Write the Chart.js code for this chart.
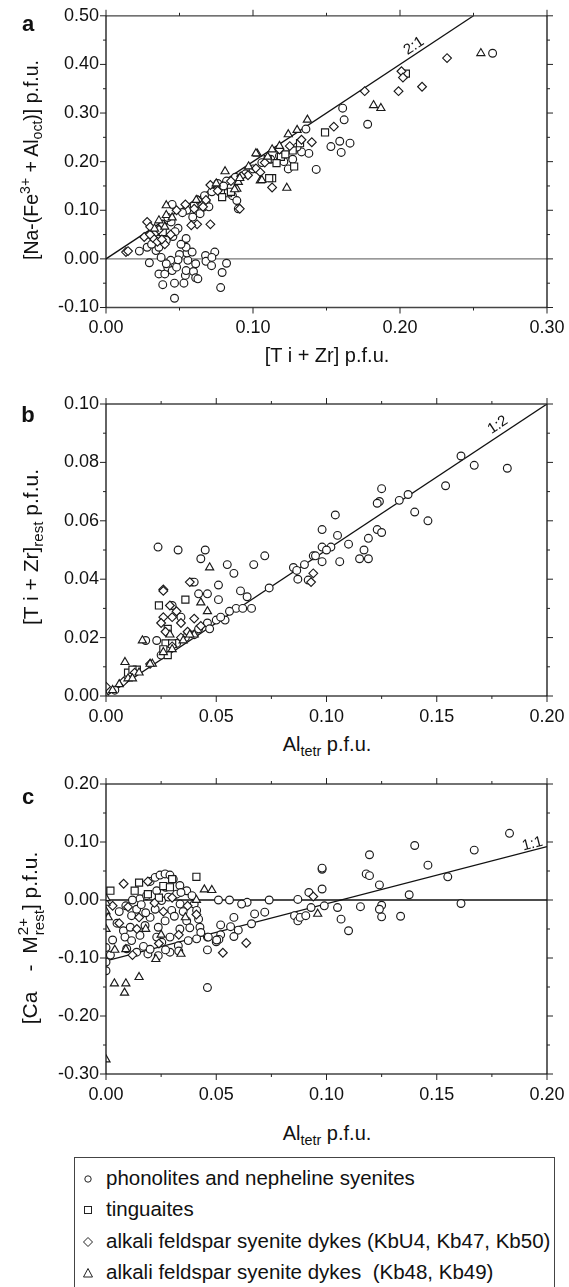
<!DOCTYPE html>
<html><head><meta charset="utf-8">
<script src="https://cdn.jsdelivr.net/npm/chart.js@4"></script>
<style>
body{margin:0;background:#fff;width:569px;height:1287px;position:relative;overflow:hidden;font-family:"Liberation Sans",Arial,sans-serif;color:#111}
canvas{position:absolute;left:0}
.t{position:absolute;white-space:nowrap;font-size:20px;transform:translate(-50%,-50%)}
.ty{transform:translate(-50%,-50%) rotate(-90deg)}
.lab{position:absolute;font-weight:bold;font-size:22px;transform:translate(-50%,-50%)}
sub,sup{font-size:72%;line-height:0}
.ss{display:inline-flex;flex-direction:column;vertical-align:middle;font-size:72%;line-height:1.05;margin-left:1px}
.gap{display:inline-block}
#legend{position:absolute;left:74px;top:1157px;width:481px;height:140px;border:1px solid #444;box-sizing:border-box}
.li{position:absolute;left:0;height:20px;font-size:20.5px;white-space:nowrap}
.li svg{position:absolute;left:6px;top:4px}
.li span{position:absolute;left:31px;top:-2px}
</style></head>
<body>
<canvas id="ca" width="569" height="345" style="top:0px"></canvas>
<canvas id="cb" width="569" height="350" style="top:380px"></canvas>
<canvas id="cc" width="569" height="340" style="top:770px"></canvas>

<div class="lab" style="left:28px;top:24px">a</div>
<div class="lab" style="left:28px;top:415px">b</div>
<div class="lab" style="left:28px;top:797px">c</div>

<div class="t ty" style="left:31px;top:160px;font-size:19.5px">[Na-(Fe<sup>3+</sup> + Al<sub>oct</sub>)] p.f.u.</div>
<div class="t" style="left:327px;top:355px">[T i + Zr] p.f.u.</div>
<div class="t ty" style="left:31px;top:547px;font-size:21px">[T i + Zr]<sub>rest</sub> p.f.u.</div>
<div class="t" style="left:327px;top:744px">Al<sub>tetr</sub> p.f.u.</div>
<div class="t ty" style="left:31px;top:938px;font-size:21px">[Ca<span class="gap" style="width:20px"></span>- <span class="gap" style="width:5px"></span>M<span class="ss"><span>2+</span><span>rest</span></span>] p.f.u.</div>
<div class="t" style="left:327px;top:1133px">Al<sub>tetr</sub> p.f.u.</div>

<div id="legend">
 <div class="li" style="top:10px"><svg width="14" height="14"><circle cx="7" cy="7" r="3.2" fill="#fff" stroke="#222" stroke-width="1"/></svg><span>phonolites and nepheline syenites</span></div>
 <div class="li" style="top:41px"><svg width="14" height="14"><rect x="3.5" y="3.5" width="7" height="7" fill="#fff" stroke="#222" stroke-width="1"/></svg><span>tinguaites</span></div>
 <div class="li" style="top:73px"><svg width="14" height="14"><polygon points="7,2.5 11.5,7 7,11.5 2.5,7" fill="#fff" stroke="#222" stroke-width="1"/></svg><span>alkali feldspar syenite dykes (KbU4, Kb47, Kb50)</span></div>
 <div class="li" style="top:104px"><svg width="14" height="14"><polygon points="7,2.5 11.5,11 2.5,11" fill="#fff" stroke="#222" stroke-width="1"/></svg><span>alkali feldspar syenite dykes &nbsp;(Kb48, Kb49)</span></div>
</div>

<script>
// ---------------- DATA ----------------
const seriesNames = ["phonolites and nepheline syenites","tinguaites","alkali feldspar syenite dykes (KbU4, Kb47, Kb50)","alkali feldspar syenite dykes  (Kb48, Kb49)"];

// Panel a : x = [Ti + Zr], y = [Na-(Fe3+ + Aloct)]
const aCirc = [[0.263,0.423],[0.161,0.310],[0.162,0.286],[0.178,0.277],[0.136,0.267],[0.159,0.242],[0.166,0.238],[0.153,0.231],[0.160,0.219],[0.138,0.217],[0.143,0.184],[0.124,0.185],[0.203,0.378],[0.127,0.205],[0.121,0.200],[0.118,0.212],[0.133,0.220],[0.130,0.230],[0.112,0.205],[0.106,0.198],[0.100,0.185],[0.095,0.175],[0.088,0.168],[0.082,0.160],[0.076,0.155],[0.086,0.130],[0.089,0.120],[0.090,0.103],[0.066,0.106],[0.062,0.099],[0.068,0.118],[0.070,0.107],[0.064,0.093],[0.059,0.086],[0.060,0.110],[0.055,0.100],[0.052,0.095],[0.067,0.130],[0.072,0.138],[0.080,0.150],
 [0.0227,0.016],[0.0295,-0.008],[0.036,-0.031],[0.040,-0.031],[0.0386,-0.053],[0.0466,-0.081],[0.0466,-0.050],[0.042,-0.017],[0.045,-0.024],[0.048,-0.017],[0.053,-0.050],[0.054,-0.034],[0.0545,-0.024],[0.0595,-0.026],[0.061,-0.039],[0.0557,-0.003],[0.055,0.012],[0.0545,0.024],[0.0586,0.014],[0.061,-0.010],[0.0625,-0.041],[0.050,0.009],[0.049,-0.002],[0.044,-0.003],[0.041,-0.010],[0.0375,0.003],[0.034,0.017],[0.028,0.024],[0.036,0.024],[0.041,0.038],[0.0455,0.046],[0.049,0.063],[0.0443,0.076],[0.045,0.112],[0.042,0.085],[0.0545,0.042],[0.0677,0.007],[0.068,-0.005],[0.0718,-0.014],[0.074,0.014],[0.072,0.003],[0.079,-0.028],[0.082,-0.009],[0.078,-0.059],[0.036,0.041],[0.031,0.030],[0.038,0.054],[0.047,0.056],[0.051,0.030]];
const aSq = [[0.149,0.260],[0.132,0.238],[0.128,0.190],[0.113,0.166],[0.127,0.223],[0.119,0.210],[0.083,0.135],[0.079,0.127],[0.110,0.205],[0.085,0.138],[0.111,0.166],[0.0386,0.055],[0.204,0.381],[0.116,0.197],[0.122,0.215]];
const aDiam = [[0.232,0.413],[0.176,0.345],[0.199,0.345],[0.215,0.354],[0.201,0.386],[0.202,0.373],[0.155,0.272],[0.140,0.240],[0.113,0.147],[0.071,0.071],[0.062,0.071],[0.071,0.152],[0.0136,0.014],[0.015,0.016],[0.028,0.076],[0.026,0.045],[0.030,0.066],[0.0386,0.071],[0.034,0.055],[0.036,0.060],[0.032,0.043],[0.058,0.069],[0.0625,0.121],[0.068,0.121],[0.091,0.103],[0.108,0.198],[0.102,0.186],[0.0966,0.172],[0.060,0.103],[0.066,0.107],[0.040,0.030],[0.035,0.035],[0.044,0.050],[0.048,0.100],[0.054,0.112],[0.076,0.140],[0.085,0.160],[0.092,0.170],[0.118,0.225],[0.125,0.232],[0.133,0.245],[0.105,0.178],[0.030,0.050],[0.038,0.040]];
const aTri = [[0.255,0.423],[0.182,0.316],[0.187,0.310],[0.137,0.286],[0.130,0.265],[0.124,0.256],[0.103,0.216],[0.123,0.146],[0.081,0.180],[0.105,0.161],[0.089,0.144],[0.090,0.158],[0.041,0.110],[0.036,0.079],[0.040,0.066],[0.041,0.090],[0.0614,0.121],[0.0875,0.143],[0.091,0.166],[0.102,0.217],[0.106,0.162],[0.075,0.155],[0.113,0.225],[0.118,0.232],[0.110,0.210],[0.097,0.190],[0.033,0.062],[0.045,0.085]];
const aLine = [[0,0],[0.25,0.5]];

// Panel b : x = Altetr, y = [Ti + Zr]rest
const bCirc = [[0.161,0.0822],[0.167,0.079],[0.182,0.078],[0.154,0.072],[0.125,0.071],[0.124,0.0666],[0.123,0.066],[0.133,0.067],[0.137,0.069],[0.140,0.063],[0.146,0.060],[0.104,0.062],[0.098,0.057],[0.105,0.055],[0.110,0.052],[0.123,0.057],[0.125,0.056],[0.119,0.054],[0.117,0.050],[0.115,0.047],[0.119,0.047],[0.106,0.046],[0.098,0.051],[0.098,0.046],[0.102,0.051],[0.094,0.048],[0.0917,0.0397],[0.087,0.040],[0.085,0.044],[0.090,0.045],[0.0865,0.043],[0.074,0.037],[0.067,0.045],[0.072,0.048],[0.066,0.030],[0.061,0.036],[0.064,0.034],[0.059,0.030],[0.055,0.045],[0.058,0.042],[0.051,0.038],[0.051,0.033],[0.045,0.050],[0.043,0.047],[0.0327,0.050],[0.0236,0.051],[0.042,0.035],[0.046,0.035],[0.046,0.025],[0.039,0.039],[0.040,0.039],[0.023,0.019],[0.018,0.019],[0.054,0.026],[0.056,0.029],[0.050,0.026],[0.047,0.023],[0.040,0.021],[0.030,0.031],[0.034,0.027],[0.004,0.002],[0.025,0.014],[0.028,0.016],[0.032,0.018],[0.036,0.020],[0.042,0.023],[0.052,0.027],[0.062,0.030],[0.095,0.048],[0.100,0.050]];
const bSq = [[0.024,0.031],[0.036,0.033],[0.028,0.023],[0.027,0.018],[0.030,0.018],[0.028,0.014],[0.014,0.009],[0.010,0.008],[0.012,0.009],[0.026,0.016]];
const bDiam = [[0.026,0.0365],[0.026,0.036],[0.038,0.039],[0.029,0.031],[0.032,0.029],[0.026,0.027],[0.025,0.025],[0.030,0.027],[0.034,0.025],[0.040,0.0265],[0.043,0.024],[0.034,0.020],[0.000,0.0032],[0.094,0.042],[0.093,0.039],[0.008,0.005],[0.013,0.008],[0.020,0.011],[0.030,0.017],[0.037,0.022],[0.027,0.022]];
const bTri = [[0.047,0.044],[0.043,0.032],[0.046,0.029],[0.0165,0.019],[0.0086,0.0116],[0.000,0.000],[0.006,0.004],[0.021,0.011],[0.026,0.015],[0.035,0.019],[0.010,0.006],[0.012,0.006],[0.015,0.008],[0.020,0.011],[0.030,0.016],[0.040,0.021],[0.003,0.002],[0.038,0.021],[0.029,0.021]];
const bLine = [[0,0],[0.2,0.1]];

// Panel c : x = Altetr, y = [Ca - M2+rest]
const cCirc = [[0.183,0.115],[0.167,0.086],[0.161,-0.006],[0.155,0.040],[0.146,0.060],[0.140,0.094],[0.1375,0.009],[0.1336,-0.028],[0.125,-0.009],[0.125,-0.029],[0.124,-0.016],[0.124,0.026],[0.1195,0.078],[0.118,0.045],[0.1195,0.042],[0.1154,-0.0115],[0.110,-0.053],[0.1066,-0.033],[0.105,-0.013],[0.098,0.053],[0.098,0.055],[0.098,0.019],[0.099,-0.010],[0.092,0.013],[0.087,0.001],[0.0855,-0.027],[0.087,-0.036],[0.088,-0.030],[0.0906,-0.027],[0.093,-0.013],[0.074,0.000],[0.072,-0.021],[0.0674,-0.024],[0.066,-0.041],[0.064,-0.004],[0.0615,-0.007],[0.058,-0.030],[0.060,-0.052],[0.058,-0.063],[0.0565,-0.046],[0.052,-0.043],[0.051,0.000],[0.056,0.000],[0.052,-0.060],[0.0512,-0.068],[0.050,-0.072],[0.046,-0.151],[0.046,-0.086],[0.046,-0.064],[0.000,-0.122],[0.000,-0.107],[0.000,-0.082],[0.003,-0.069],
 [0.020,0.032],[0.0223,0.039],[0.0245,0.043],[0.0268,0.045],[0.029,0.043],[0.0305,0.036],[0.0335,0.025],[0.0366,0.016],[0.039,0.0075],[0.040,-0.007],[0.0411,-0.018],[0.042,-0.033],[0.0426,-0.047],[0.043,-0.056],[0.0502,-0.069],[0.0464,-0.064],[0.0411,-0.067],[0.0373,-0.070],[0.0328,-0.079],[0.029,-0.090],[0.0237,-0.096],[0.019,-0.093],[0.0139,-0.090],[0.0094,-0.084],[0.0079,-0.053],[0.011,-0.047],[0.0086,-0.064],[0.0116,-0.070],[0.0154,-0.061],[0.0177,-0.044],[0.020,-0.030],[0.0223,-0.016],[0.0252,-0.001],[0.0283,0.005],[0.032,0.010],[0.034,0.013],[0.0336,-0.007],[0.0298,-0.018],[0.0268,-0.036],[0.0237,-0.047],[0.023,-0.064],[0.0253,-0.073],[0.029,-0.064],[0.0335,-0.050],[0.0366,-0.036],[0.0154,0.002],[0.0184,0.0075],[0.0139,-0.016],[0.0116,-0.027],[0.023,0.016],[0.027,0.022],[0.012,0.000],[0.009,-0.010],[0.006,-0.020],[0.016,-0.008],[0.018,-0.022],[0.031,-0.028],[0.035,-0.020],[0.038,-0.048],[0.033,-0.088],[0.027,-0.086],[0.005,-0.040],[0.002,-0.095],[0.017,-0.080],[0.020,-0.085]];
const cSq = [[0.002,0.016],[0.015,0.030],[0.013,0.016],[0.041,0.040],[0.026,0.024],[0.029,0.022],[0.030,0.036],[0.024,0.004],[0.019,0.010]];
const cDiam = [[0.008,0.028],[0.019,0.032],[0.0636,-0.074],[0.053,-0.091],[0.094,0.006],[0.010,-0.012],[0.015,-0.030],[0.022,-0.005],[0.026,-0.020],[0.030,0.004],[0.014,-0.050],[0.006,-0.040],[0.033,-0.060],[0.024,-0.075],[0.037,-0.010],[0.012,-0.095],[0.041,-0.025],[0.003,-0.010]];
const cTri = [[0.0038,-0.144],[0.009,-0.144],[0.0084,-0.160],[0.015,-0.133],[0.000,-0.275],[0.000,-0.005],[0.000,-0.020],[0.000,-0.050],[0.000,0.003],[0.001,-0.030],[0.096,-0.024],[0.0446,0.018],[0.048,0.017],[0.0226,-0.102],[0.034,-0.093],[0.004,-0.086],[0.009,-0.085],[0.018,-0.050],[0.041,0.000],[0.036,-0.030],[0.025,-0.060]];
const cLine = [[0,-0.105],[0.2,0.092]];

// axis ranges / ticks
const aXTicks = {min:0, max:0.30, minor:0.05, major:0.10};
const aYTicks = {min:-0.10, max:0.50, minor:0.05, major:0.10};
const bXTicks = {min:0, max:0.20, minor:0.025, major:0.05};
const bYTicks = {min:0, max:0.10, minor:0.01, major:0.02};
const cXTicks = {min:0, max:0.20, minor:0.025, major:0.05};
const cYTicks = {min:-0.30, max:0.20, minor:0.05, major:0.10};

// ---------------- DRAWING ----------------
const FONT = '"Liberation Sans", Arial, sans-serif';
function isMajor(v, major){ const r = v/major; return Math.abs(r - Math.round(r)) < 1e-6; }
function fmt(v){ if (Math.abs(v) < 1e-9) v = 0; return v.toFixed(2); }
const toXY = arr => arr.map(p => ({x:p[0], y:p[1]}));

const framePlugin = {
  id: 'frame',
  beforeDatasetsDraw(chart, args, opts){
    if (!opts.zero) return;
    const {ctx, chartArea:a} = chart;
    const y = chart.scales.y.getPixelForValue(0);
    ctx.save(); ctx.strokeStyle = opts.zero; ctx.lineWidth = 1.3;
    ctx.beginPath(); ctx.moveTo(a.left, y); ctx.lineTo(a.right, y); ctx.stroke(); ctx.restore();
  },
  afterDatasetsDraw(chart, args, opts){
    const {ctx, chartArea:a, scales:{x, y}} = chart;
    ctx.save();
    ctx.lineWidth = 1.3;
    ctx.strokeStyle = '#444';
    ctx.beginPath(); ctx.moveTo(a.left, a.top); ctx.lineTo(a.right, a.top); ctx.moveTo(a.left, a.bottom); ctx.lineTo(a.right, a.bottom); ctx.stroke();
    ctx.strokeStyle = '#111';
    ctx.beginPath(); ctx.moveTo(a.left, a.top); ctx.lineTo(a.left, a.bottom); ctx.moveTo(a.right, a.top); ctx.lineTo(a.right, a.bottom); ctx.stroke();
    ctx.lineWidth = 1; ctx.strokeStyle = '#222';
    ctx.beginPath();
    x.ticks.forEach(t => { const p = x.getPixelForValue(t.value); const L = t.label ? 6 : 3;
      ctx.moveTo(p, a.bottom); ctx.lineTo(p, a.bottom + L); ctx.moveTo(p, a.top); ctx.lineTo(p, a.top - L); });
    y.ticks.forEach(t => { const p = y.getPixelForValue(t.value); const L = t.label ? 6 : 3;
      ctx.moveTo(a.left, p); ctx.lineTo(a.left - L, p); ctx.moveTo(a.right, p); ctx.lineTo(a.right + L, p); });
    ctx.stroke();
    if (opts.ratio) {
      const r = opts.ratio;
      const x0 = x.getPixelForValue(r.line[0][0]), y0 = y.getPixelForValue(r.line[0][1]);
      const x1 = x.getPixelForValue(r.line[1][0]), y1 = y.getPixelForValue(r.line[1][1]);
      const ang = Math.atan2(y1 - y0, x1 - x0);
      ctx.translate(x.getPixelForValue(r.pos[0]), y.getPixelForValue(r.pos[1]));
      ctx.rotate(ang);
      ctx.fillStyle = '#111'; ctx.font = '15px ' + FONT; ctx.textAlign = 'center'; ctx.textBaseline = 'middle';
      ctx.fillText(r.text, 0, 0);
    }
    ctx.restore();
  }
};

function panel(id, top, height, plotTop, plotBottom, xt, yt, sets, line, ratio, zeroColor){
  const styles = [
    {pointStyle:'circle', radius:3.9},
    {pointStyle:'rect', radius:5},
    {pointStyle:'rectRot', radius:4.4},
    {pointStyle:'triangle', radius:4.7}
  ];
  const datasets = [{
    label:'line', data: toXY(line), showLine:true, pointRadius:0, borderColor:'#111', borderWidth:1.3, order:10
  }];
  sets.forEach((s, i) => datasets.push({
    label: seriesNames[i], data: toXY(s), pointStyle: styles[i].pointStyle, pointRadius: styles[i].radius,
    pointBorderColor:'#1a1a1a', pointBackgroundColor:'#fff', pointBorderWidth:1.15, showLine:false, order: 4 - i
  }));
  const tickFont = {family: FONT, size: 18};
  new Chart(document.getElementById(id), {
    type:'scatter',
    data:{datasets},
    plugins:[framePlugin],
    options:{
      responsive:false, animation:false, devicePixelRatio:1, events:[],
      layout:{padding:{left:0, right:22, top: plotTop - top, bottom:0}},
      plugins:{legend:{display:false}, tooltip:{enabled:false},
        frame:{zero: zeroColor, ratio: ratio}},
      scales:{
        x:{type:'linear', min:xt.min, max:xt.max,
          grid:{display:false, drawTicks:false}, border:{display:false},
          ticks:{stepSize:xt.minor, autoSkip:false, maxRotation:0, minRotation:0, padding:10, color:'#111', font:tickFont,
            callback: v => isMajor(v, xt.major) ? fmt(v) : ''},
          afterFit: s => { s.height = height - (plotBottom - top); s.paddingLeft = 0; s.paddingRight = 0; }},
        y:{type:'linear', min:yt.min, max:yt.max,
          grid:{display:false, drawTicks:false}, border:{display:false},
          ticks:{stepSize:yt.minor, autoSkip:false, padding:7, color:'#111', font:tickFont,
            callback: v => isMajor(v, yt.major) ? fmt(v) : ''},
          afterFit: s => { s.width = 106; s.paddingTop = 0; s.paddingBottom = 0; }}
      }
    }
  });
}

panel('ca', 0, 345, 15.8, 307.5, aXTicks, aYTicks, [aCirc, aSq, aDiam, aTri], aLine,
  {text:'2:1', pos:[0.2095, 0.438], line:aLine}, '#777');
panel('cb', 380, 350, 404, 696, bXTicks, bYTicks, [bCirc, bSq, bDiam, bTri], bLine,
  {text:'1:2', pos:[0.1777, 0.0928], line:bLine}, null);
panel('cc', 770, 340, 784, 1074, cXTicks, cYTicks, [cCirc, cSq, cDiam, cTri], cLine,
  {text:'1:1', pos:[0.1934, 0.0966], line:cLine}, '#111');
</script>
</body></html>
